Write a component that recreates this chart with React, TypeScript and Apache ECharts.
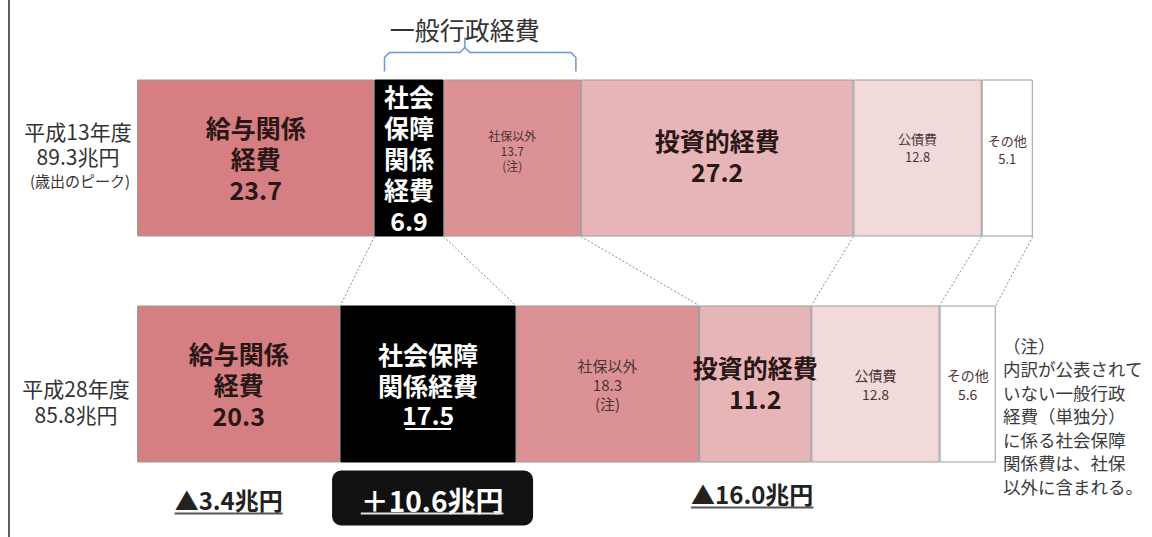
import React, { useEffect, useRef } from "react";
import * as echarts from "echarts";

const FONT = "'Noto Sans CJK JP', 'Noto Sans', sans-serif";

const categories = ["平成13年度", "平成28年度"];
const totalLabels = ["89.3兆円", "85.8兆円"];
const subLabels = ["(歳出のピーク)", ""];
const segmentNames = ["給与関係経費", "社会保障関係経費", "社保以外", "投資的経費", "公債費", "その他"];
const valuesH13 = [23.7, 6.9, 13.7, 27.2, 12.8, 5.1];
const valuesH28 = [20.3, 17.5, 18.3, 11.2, 12.8, 5.6];
const labelLinesH13 = [["給与関係", "経費"], ["社会", "保障", "関係", "経費"], ["社保以外"], ["投資的経費"], ["公債費"], ["その他"]];
const labelLinesH28 = [["給与関係", "経費"], ["社会保障", "関係経費"], ["社保以外"], ["投資的経費"], ["公債費"], ["その他"]];
const noteMarked = [false, false, true, false, false, false];
const bigLabel = [true, true, false, true, false, false];
const segmentColors = ["#d57f82", "#000000", "#dc9194", "#e7b5b7", "#f2dadb", "#ffffff"];
const bracketTitle = "一般行政経費";
const diffSegments = [0, 1, 3];
const noteLines = ["（注）", "内訳が公表されて", "いない一般行政", "経費（単独分）", "に係る社会保障", "関係費は、社保", "以外に含まれる。"];

const BAR_W = 157;

function measure(text: string, font: string): number {
  const c = document.createElement("canvas").getContext("2d");
  if (!c) return text.length * 20;
  c.font = font;
  return c.measureText(text).width;
}

function buildLabel(seg: number, row: number, v: number) {
  const lines = row === 0 ? labelLinesH13[seg] : labelLinesH28[seg];
  const valueText = v.toFixed(1);
  if (bigLabel[seg]) {
    const color = seg === 1 ? "#ffffff" : "#2a1616";
    const base = {
      show: true,
      position: "inside",
      color,
      fontSize: 25,
      fontWeight: "bold",
      lineHeight: 31,
      fontFamily: FONT,
    } as any;
    if (seg === 1 && row === 1) {
      return {
        ...base,
        offset: [0, 0],
        formatter: lines.map((l) => `{t|${l}}`).join("\n") + `\n{v|${valueText}}\n{u| }`,
        rich: {
          t: { color, fontSize: 25, fontWeight: "bold", lineHeight: 31, fontFamily: FONT },
          v: { color, fontSize: 25, fontWeight: "bold", lineHeight: 28, fontFamily: FONT },
          u: { width: 46, height: 2, lineHeight: 2, backgroundColor: "#ffffff", fontSize: 1 },
        },
      };
    }
    const off = row === 0 && seg === 3 ? -3 : row === 1 && seg === 3 ? -2 : 0;
    return { ...base, offset: [0, off], formatter: [...lines, valueText].join("\n") };
  }
  let fontSize = seg === 2 ? 15 : 14;
  let lineHeight = 19;
  let off = 0;
  if (row === 0) {
    if (seg === 2) {
      fontSize = 12; lineHeight = 15; off = -8;
    } else {
      fontSize = 13; lineHeight = 18; off = seg === 4 ? -11 : -9;
    }
  }
  const txt = [...lines, valueText, ...(noteMarked[seg] ? ["(注)"] : [])].join("\n");
  return {
    show: true,
    position: "inside",
    color: "#4a3434",
    fontSize,
    lineHeight,
    fontFamily: FONT,
    offset: [0, off],
    formatter: txt,
  };
}

export default function App() {
  const ref = useRef<HTMLDivElement>(null);
  useEffect(() => {
    if (!ref.current) return;
    const chart = echarts.init(ref.current, undefined, { renderer: "svg" });
    const rows = [valuesH13, valuesH28];
    const series = segmentNames.map((name, i) => ({
      type: "bar",
      name,
      stack: "total",
      barWidth: BAR_W,
      itemStyle: {
        color: segmentColors[i],
        borderColor: i === 1 ? "#000000" : "#9c9c9c",
        borderWidth: 1,
      },
      data: rows.map((r, ri) => ({ value: r[i], label: buildLabel(i, ri, r[i]) })),
    }));
    chart.setOption({
      animation: false,
      backgroundColor: "#ffffff",
      textStyle: { fontFamily: FONT },
      grid: { left: 137, right: 13, top: 45, bottom: 40 },
      xAxis: { type: "value", min: 0, max: 100, show: false },
      yAxis: { type: "category", data: categories, inverse: true, show: false },
      series,
    });

    const px = (x: number, row: number) => chart.convertToPixel({ gridIndex: 0 }, [x, row]) as number[];
    const cum = (arr: number[]) => {
      const out: number[] = [];
      let s = 0;
      arr.forEach((v) => { s += v; out.push(s); });
      return out;
    };
    const c13 = cum(valuesH13);
    const c28 = cum(valuesH28);
    const y0 = px(0, 0)[1];
    const y1 = px(0, 1)[1];
    const topBarTop = y0 - BAR_W / 2;
    const topBarBottom = y0 + BAR_W / 2;
    const botBarTop = y1 - BAR_W / 2;
    const botBarBottom = y1 + BAR_W / 2;

    const graphics: any[] = [];
    // left frame line
    graphics.push({ type: "line", shape: { x1: 9, y1: 0, x2: 9, y2: 537 }, style: { stroke: "#5e5e5e", lineWidth: 2 } });

    // connectors
    c13.forEach((v, k) => {
      const a = px(v, 0)[0];
      const b = px(c28[k], 1)[0];
      graphics.push({
        type: "line",
        shape: { x1: a, y1: topBarBottom, x2: b, y2: botBarTop },
        style: { stroke: "#8a8a8a", lineWidth: 1, lineDash: [2, 2] },
      });
    });

    // bracket
    const xL = px(c13[0], 0)[0] + 10;
    const xR = px(c13[2], 0)[0] - 5;
    const xM = xL + (xR - xL) * 0.42;
    const hy = topBarTop - 27;
    graphics.push({
      type: "polyline",
      shape: {
        points: [
          [xL, topBarTop - 8], [xL, hy + 5], [xL + 5, hy], [xM - 5, hy], [xM, hy - 5], [xM, hy - 15],
        ],
      },
      style: { stroke: "#6b98d2", lineWidth: 1.5, fill: null },
    });
    graphics.push({
      type: "polyline",
      shape: {
        points: [
          [xM, hy - 5], [xM + 5, hy], [xR - 5, hy], [xR, hy + 5], [xR, topBarTop - 8],
        ],
      },
      style: { stroke: "#6b98d2", lineWidth: 1.5, fill: null },
    });
    graphics.push({
      type: "text",
      x: xM,
      y: topBarTop - 51,
      style: { text: bracketTitle, fontSize: 25, fill: "#333333", fontFamily: FONT, align: "center", verticalAlign: "middle" },
    });

    // category labels
    const labX = 78;
    graphics.push({ type: "text", x: labX, y: y0 - 27, style: { text: categories[0], fontSize: 21, fill: "#333", fontFamily: FONT, align: "center", verticalAlign: "middle" } });
    graphics.push({ type: "text", x: labX, y: y0 - 2, style: { text: totalLabels[0], fontSize: 21, fill: "#333", fontFamily: FONT, align: "center", verticalAlign: "middle" } });
    graphics.push({ type: "text", x: labX + 2, y: y0 + 22, style: { text: subLabels[0], fontSize: 15, fill: "#333", fontFamily: FONT, align: "center", verticalAlign: "middle" } });
    graphics.push({ type: "text", x: labX - 2, y: y1 + 4, style: { text: categories[1], fontSize: 21, fill: "#333", fontFamily: FONT, align: "center", verticalAlign: "middle" } });
    graphics.push({ type: "text", x: labX - 2, y: y1 + 30, style: { text: totalLabels[1], fontSize: 21, fill: "#333", fontFamily: FONT, align: "center", verticalAlign: "middle" } });

    // difference annotations
    diffSegments.forEach((seg) => {
      const d = valuesH28[seg] - valuesH13[seg];
      const text = (d >= 0 ? "＋" : "▲") + Math.abs(d).toFixed(1) + "兆円";
      const start = seg === 0 ? 0 : c28[seg - 1];
      const cx = px((start + c28[seg]) / 2, 1)[0];
      if (d >= 0) {
        const x = cx + 4;
        const fs = 28;
        const w = measure(text, `bold ${fs}px ${FONT}`);
        graphics.push({ type: "rect", shape: { x: x - 100, y: botBarBottom + 8, width: 201, height: 55, r: 9 }, style: { fill: "#111111" } });
        graphics.push({ type: "text", x, y: botBarBottom + 37, style: { text, fontSize: fs, fontWeight: "bold", fill: "#ffffff", fontFamily: FONT, align: "center", verticalAlign: "middle" } });
        graphics.push({ type: "line", shape: { x1: x - w / 2, y1: botBarBottom + 51, x2: x + w / 2, y2: botBarBottom + 51 }, style: { stroke: "#e6e6e6", lineWidth: 2 } });
      } else {
        const x = seg === 0 ? cx - 10 : cx - 3;
        const yy = seg === 0 ? botBarBottom + 37 : botBarBottom + 31;
        const fs = 24;
        const w = measure(text, `bold ${fs}px ${FONT}`);
        graphics.push({ type: "text", x, y: yy, style: { text, fontSize: fs, fontWeight: "bold", fill: "#222222", fontFamily: FONT, align: "center", verticalAlign: "middle" } });
        graphics.push({ type: "line", shape: { x1: x - w / 2, y1: yy + 14, x2: x + w / 2, y2: yy + 14 }, style: { stroke: "#555555", lineWidth: 2 } });
      }
    });

    // note text
    noteLines.forEach((t, i) => {
      graphics.push({
        type: "text",
        x: 1003,
        y: 345 + i * 23.5,
        style: { text: t, fontSize: 17.5, fill: "#3c3c3c", fontFamily: FONT, align: "left", verticalAlign: "middle" },
      });
    });

    chart.setOption({ graphic: graphics });
    return () => chart.dispose();
  }, []);
  return <div ref={ref} style={{ position: "fixed", left: 0, top: 0, width: 1152, height: 537, background: "#fff" }} />;
}
